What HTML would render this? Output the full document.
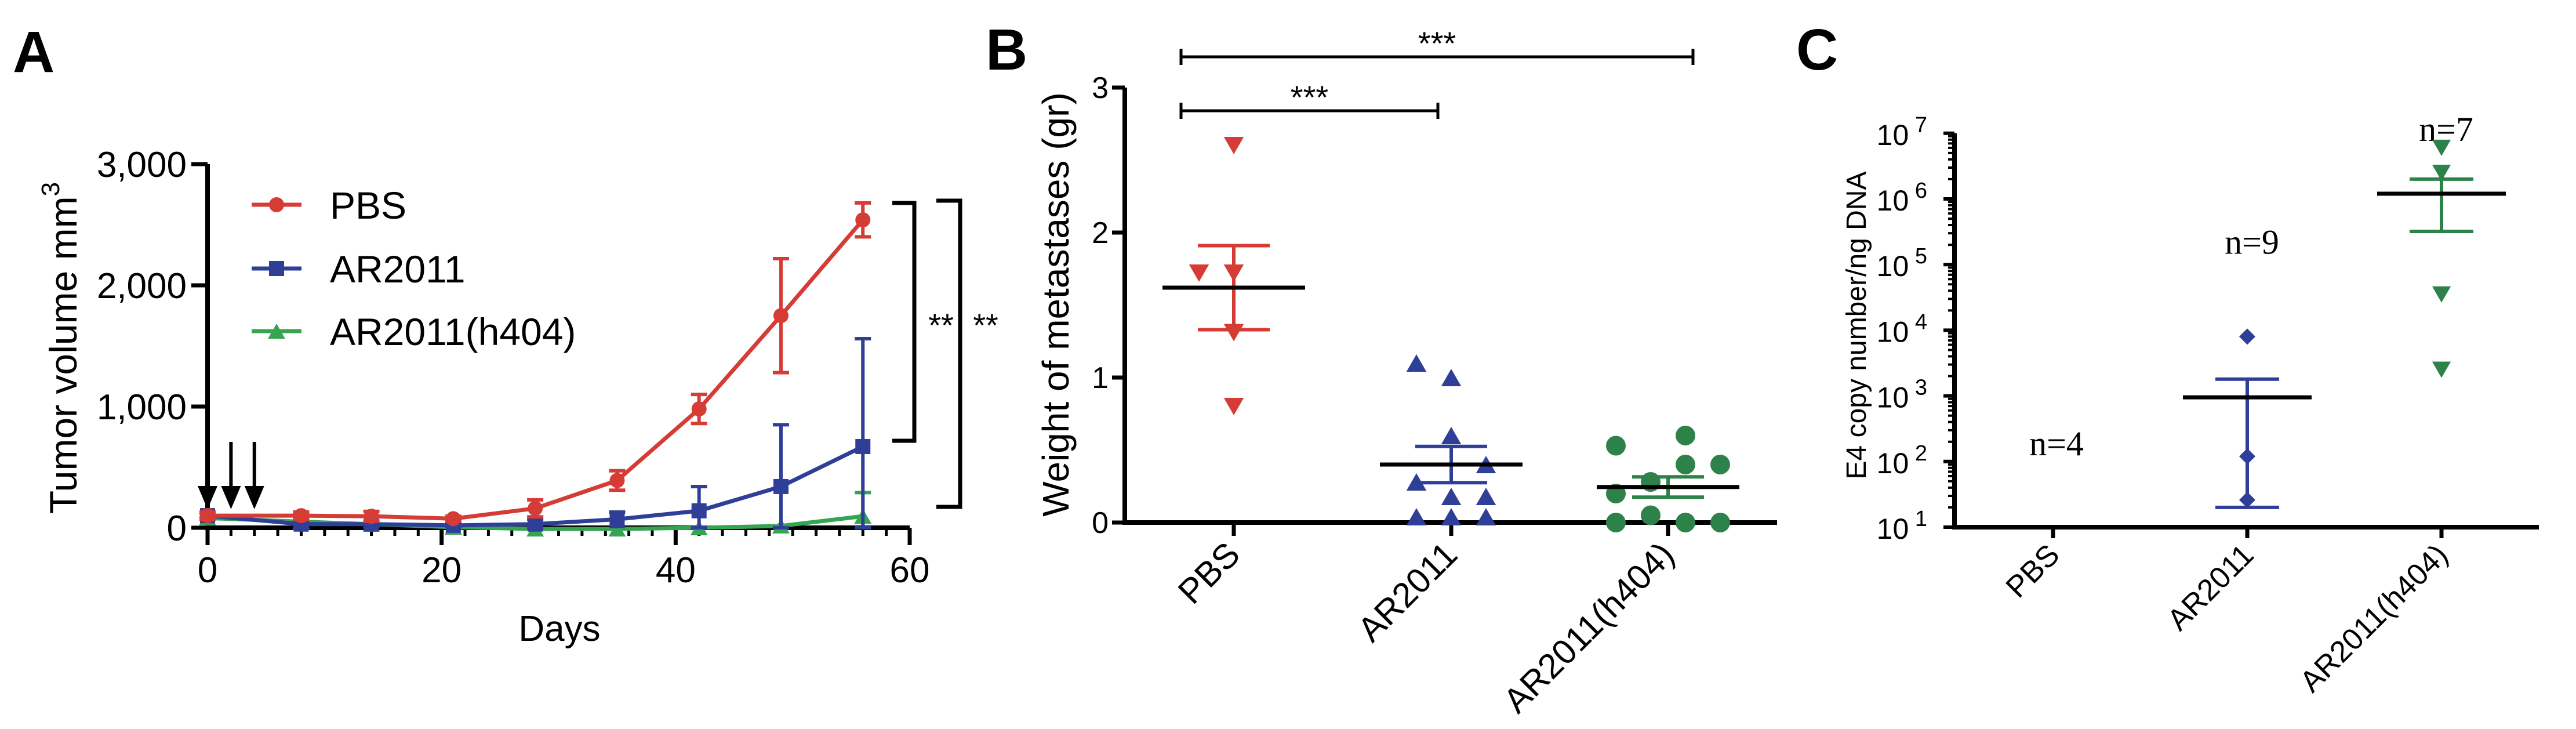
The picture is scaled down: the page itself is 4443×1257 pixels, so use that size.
<!DOCTYPE html>
<html><head><meta charset="utf-8"><style>
html,body{margin:0;padding:0;background:#fff}
svg{display:block}
text{font-family:"Liberation Sans",Arial,sans-serif}
text.serif{font-family:"Liberation Serif","Times New Roman",serif}
</style></head><body>
<svg id="fig" width="4443" height="1257" viewBox="0 0 4443 1257" xmlns="http://www.w3.org/2000/svg">
<g id="pa"></g>
<g id="pb"></g>
<g id="pc"></g>
</svg>
<script>
// ---------- Panel A data ----------
const daysA = [0, 8, 14, 21, 28, 35, 42, 49, 56];
const pbsA = [100, 100, 95, 75, 160, 390, 980, 1750, 2540];
const pbsErrA = [30, 30, 40, 20, 70, 80, 120, 470, 140];
const arA = [100, 30, 30, 20, 30, 70, 140, 340, 670];
const arErrA = [20, 20, 20, 10, 40, 60, 200, 510, 890];
const h404A = [80, 50, 30, 5, -10, -10, 0, 15, 95];
const h404ErrA = [0, 0, 0, 0, 0, 0, 0, 0, 195];
const xTicksA = [0, 20, 40, 60];
const yTicksA = [0, 1000, 2000, 3000];
const yTickLabelsA = ["0", "1,000", "2,000", "3,000"];
const arrowDaysA = [0, 2, 4];
// ---------- Panel B data ----------
const catsB = ["PBS", "AR2011", "AR2011(h404)"];
const pbsB = [2.6, 1.72, 1.72, 1.31, 0.8];
const pbsOffB = [0, -1, 0, 0, 0];
const arB = [1.1, 1.0, 0.6, 0.4, 0.28, 0.18, 0.18, 0.04, 0.04, 0.04];
const arOffB = [-1, 0, 0, 1, -1, 0, 1, -1, 0, 1];
const h4B = [0.53, 0.6, 0.4, 0.4, 0.28, 0.2, 0.05, 0, 0, 0];
const h4OffB = [-1.5, 0.5, 0.5, 1.5, -0.5, -1.5, -0.5, -1.5, 0.5, 1.5];
const meanB = [1.62, 0.4, 0.245];
const semB = [0.29, 0.125, 0.07];
const yTicksB = [0, 1, 2, 3];
// ---------- Panel C data ----------
const catsC = ["PBS", "AR2011", "AR2011(h404)"];
const nLabelsC = ["n=4", "n=9", "n=7"];
const nPosC = [180, 2.1e5, 1.1e7];
const arC = [8000, 120, 26];
const h4C = [6e6, 2.5e6, 3.5e4, 2500];
const meanC = [950, 1.2e6];
const errHiC = [1800, 2e6];
const errLoC = [20, 3.2e5];
const yTicksC = [1, 2, 3, 4, 5, 6, 7];

const NS = "http://www.w3.org/2000/svg";
function mk(parent, tag, attrs, txt) {
  const e = document.createElementNS(NS, tag);
  for (const k in attrs) e.setAttribute(k, attrs[k]);
  if (txt !== undefined) e.textContent = txt;
  parent.appendChild(e);
  return e;
}
const RED = "#d63c36", BLUE = "#2f3f98", GREEN = "#36a452", GREEN2 = "#2d8249";

// ================= Panel A =================
const A = document.getElementById("pa");
const xA = d => 358 + d * (1569 - 358) / 60;
const yA = v => 910 - v * 0.209;
let t = mk(A, "text", {x: 22, y: 124, "font-size": 100, "font-weight": "bold"}, "A");


let ax = mk(A, "path", {d: `M358 ${yA(3000)} V910 H${xA(60)}`, stroke: "#000", "stroke-width": 8, fill: "none"});


for (let d = 0; d <= 60; d += 2) {
  const major = xTicksA.includes(d);
  mk(A, "line", {x1: xA(d), x2: xA(d), y1: 910, y2: major ? 940 : 924, stroke: "#000", "stroke-width": major ? 7 : 5});
}
xTicksA.forEach(d => {
  const e = mk(A, "text", {x: xA(d), y: 1004, "font-size": 62, "text-anchor": "middle"}, String(d));
  
  
});
yTicksA.forEach((v, i) => {
  mk(A, "line", {x1: 330, x2: 358, y1: yA(v), y2: yA(v), stroke: "#000", "stroke-width": 7});
  const e = mk(A, "text", {x: 322, y: yA(v) + 22, "font-size": 62, "text-anchor": "end"}, yTickLabelsA[i]);
  
  
});
t = mk(A, "text", {x: 965, y: 1105, "font-size": 62, "text-anchor": "middle"}, "Days");


t = mk(A, "text", {transform: "translate(132,600) rotate(-90)", "font-size": 66, "text-anchor": "middle"});


t.innerHTML = 'Tumor volume mm<tspan dy="-30" font-size="44">3</tspan>';
arrowDaysA.forEach(d => {
  const g = mk(A, "g", {});
  
  
  mk(g, "line", {x1: xA(d), x2: xA(d), y1: 762, y2: 850, stroke: "#000", "stroke-width": 6});
  mk(g, "path", {d: `M${xA(d) - 17} 838 L${xA(d) + 17} 838 L${xA(d)} 878 Z`, fill: "#000"});
});
function seriesA(vals, errs, color, shape, name) {
  const g = mk(A, "g", {});
  
  
  vals.forEach((v, i) => {
    if (errs[i] > 0) {
      const x = xA(daysA[i]);
      mk(g, "path", {d: `M${x} ${yA(v + errs[i])} V${yA(Math.max(0, v - errs[i]))} M${x - 14} ${yA(v + errs[i])} H${x + 14} M${x - 14} ${yA(Math.max(0, v - errs[i]))} H${x + 14}`, stroke: color, "stroke-width": 6, fill: "none"});
    }
  });
  mk(g, "polyline", {points: vals.map((v, i) => xA(daysA[i]) + "," + yA(v)).join(" "), stroke: color, "stroke-width": 7, fill: "none"});
  vals.forEach((v, i) => marker(g, shape, xA(daysA[i]), yA(v), color, 13));
}
function marker(g, shape, x, y, color, r) {
  let e;
  if (shape === "circle") e = mk(g, "ellipse", {cx: x, cy: y, rx: r, ry: r, fill: color});
  else if (shape === "square") e = mk(g, "rect", {x: x - r, y: y - r, width: 2 * r, height: 2 * r, fill: color});
  else if (shape === "tri") e = mk(g, "path", {d: `M${x - r * 1.15} ${y + r} L${x + r * 1.15} ${y + r} L${x} ${y - r} Z`, fill: color});
  else if (shape === "dtri") e = mk(g, "path", {d: `M${x - r * 1.15} ${y - r} L${x + r * 1.15} ${y - r} L${x} ${y + r} Z`, fill: color});
  else e = mk(g, "path", {d: `M${x} ${y - r} L${x + r} ${y} L${x} ${y + r} L${x - r} ${y} Z`, fill: color});
  
  
}
seriesA(h404A, h404ErrA, GREEN, "tri", "series-ar2011-h404");
seriesA(arA, arErrA, BLUE, "square", "series-ar2011");
seriesA(pbsA, pbsErrA, RED, "circle", "series-pbs");
const legA = [["PBS", RED, "circle", 353], ["AR2011", BLUE, "square", 463], ["AR2011(h404)", GREEN, "tri", 571]];
legA.forEach(l => {
  const g = mk(A, "g", {});
  
  
  mk(g, "line", {x1: 434, x2: 520, y1: l[3], y2: l[3], stroke: l[1], "stroke-width": 7});
  marker(g, l[2], 477, l[3], l[1], 13);
  mk(g, "text", {x: 569, y: l[3] + 24, "font-size": 66}, l[0]);
});
let br = mk(A, "path", {d: "M1539 350 H1577 V760 H1539", stroke: "#000", "stroke-width": 7, fill: "none"});


br = mk(A, "path", {d: "M1615 346 H1656 V874 H1615", stroke: "#000", "stroke-width": 7, fill: "none"});


t = mk(A, "text", {x: 1623, y: 580, "font-size": 56, "text-anchor": "middle"}, "**");


t = mk(A, "text", {x: 1700, y: 580, "font-size": 56, "text-anchor": "middle"}, "**");



// ================= Panel B =================
const B = document.getElementById("pb");
const catXB = [2128, 2503, 2877];
const yB = v => 901 - v * 250;
t = mk(B, "text", {x: 1700, y: 120, "font-size": 100, "font-weight": "bold"}, "B");


ax = mk(B, "path", {d: `M1940 ${yB(3)} V901 H3065`, stroke: "#000", "stroke-width": 8, fill: "none"});


yTicksB.forEach(v => {
  mk(B, "line", {x1: 1918, x2: 1940, y1: yB(v), y2: yB(v), stroke: "#000", "stroke-width": 7});
  const e = mk(B, "text", {x: 1912, y: yB(v) + 18, "font-size": 52, "text-anchor": "end"}, String(v));
  
  
});
catsB.forEach((c, i) => {
  mk(B, "line", {x1: catXB[i], x2: catXB[i], y1: 901, y2: 924, stroke: "#000", "stroke-width": 7});
  const e = mk(B, "text", {transform: `translate(${catXB[i] + 14},960) rotate(-45)`, "font-size": 60, "text-anchor": "end"}, c);
  
  
});
t = mk(B, "text", {transform: "translate(1843,525) rotate(-90)", "font-size": 64, "text-anchor": "middle"}, "Weight of metastases (gr)");


function sigBar(g, x1, x2, y, label) {
  const e = mk(g, "path", {d: `M${x1} ${y - 14} V${y + 14} M${x1} ${y} H${x2} M${x2} ${y - 14} V${y + 14}`, stroke: "#000", "stroke-width": 5, fill: "none"});
  
  
  const s = mk(g, "text", {x: (x1 + x2) / 2, y: y - 4, "font-size": 56, "text-anchor": "middle"}, label);
  
  
}
sigBar(B, 2037, 2920, 98, "***");
sigBar(B, 2037, 2480, 191, "***");
function groupB(vals, offs, ci, color, shape, name, dx) {
  const g = mk(B, "g", {});
  
  
  vals.forEach((v, i) => marker(g, shape, catXB[ci] + offs[i] * dx, yB(v), color, shape === "circle" ? 17 : 15));
  const x = catXB[ci], m = meanB[ci], s = semB[ci];
  mk(g, "path", {d: `M${x} ${yB(m + s)} V${yB(m - s)} M${x - 62} ${yB(m + s)} H${x + 62} M${x - 62} ${yB(m - s)} H${x + 62}`, stroke: color, "stroke-width": 6, fill: "none"});
  const ml = mk(g, "line", {x1: x - 123, x2: x + 123, y1: yB(m), y2: yB(m), stroke: "#000", "stroke-width": 7});
  
  
}
groupB(pbsB, pbsOffB, 0, RED, "dtri", "group-pbs", 60);
groupB(arB, arOffB, 1, BLUE, "tri", "group-ar2011", 60);
groupB(h4B, h4OffB, 2, GREEN2, "circle", "group-ar2011-h404", 60);

// ================= Panel C =================
const C = document.getElementById("pc");
const catXC = [3541, 3876, 4211];
const yC = v => 909 - (Math.log10(v) - 1) * 113.2;
t = mk(C, "text", {x: 3098, y: 120, "font-size": 100, "font-weight": "bold"}, "C");


ax = mk(C, "path", {d: `M3371 ${yC(1e7)} V909 H4379`, stroke: "#000", "stroke-width": 8, fill: "none"});


yTicksC.forEach(p => {
  mk(C, "line", {x1: 3352, x2: 3371, y1: yC(Math.pow(10, p)), y2: yC(Math.pow(10, p)), stroke: "#000", "stroke-width": 6});
  if (p < 7) for (let k = 2; k <= 9; k++) mk(C, "line", {x1: 3360, x2: 3371, y1: yC(k * Math.pow(10, p)), y2: yC(k * Math.pow(10, p)), stroke: "#000", "stroke-width": 4});
  const e = mk(C, "text", {x: 3324, y: yC(Math.pow(10, p)) + 20, "font-size": 50, "text-anchor": "end"});
  
  
  e.innerHTML = `10<tspan dy="-22" font-size="38"> ${p}</tspan>`;
});
catsC.forEach((c, i) => {
  mk(C, "line", {x1: catXC[i], x2: catXC[i], y1: 909, y2: 928, stroke: "#000", "stroke-width": 7});
  const e = mk(C, "text", {transform: `translate(${catXC[i] + 14},960) rotate(-45)`, "font-size": 52, "text-anchor": "end"}, c);
  
  
  const n = mk(C, "text", {class: "serif", x: catXC[i] + (i === 0 ? 6 : 8), y: yC(nPosC[i]) + 18, "font-size": 60, "text-anchor": "middle"}, nLabelsC[i]);
  
  
});
t = mk(C, "text", {transform: "translate(3218,561) rotate(-90)", "font-size": 48, "text-anchor": "middle"}, "E4 copy  number/ng DNA");


function groupC(vals, gi, ci, color, shape, name) {
  const g = mk(C, "g", {});
  
  
  const x = catXC[ci];
  mk(g, "path", {d: `M${x} ${yC(errHiC[gi])} V${yC(errLoC[gi])} M${x - 55} ${yC(errHiC[gi])} H${x + 55} M${x - 55} ${yC(errLoC[gi])} H${x + 55}`, stroke: color, "stroke-width": 6, fill: "none"});
  vals.forEach(v => marker(g, shape, x, yC(v), color, 14));
  const ml = mk(g, "line", {x1: x - 111, x2: x + 111, y1: yC(meanC[gi]), y2: yC(meanC[gi]), stroke: "#000", "stroke-width": 7});
  
  
}
groupC(arC, 0, 1, BLUE, "dia", "group-ar2011");
groupC(h4C, 1, 2, GREEN2, "dtri", "group-ar2011-h404");
</script>
</body></html>
